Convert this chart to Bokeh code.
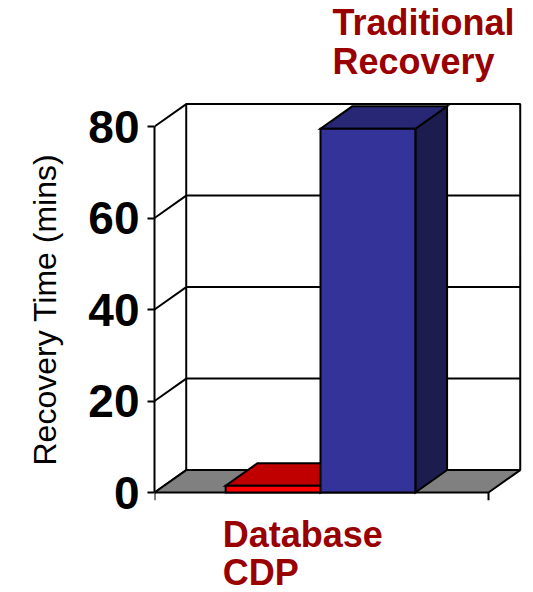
from bokeh.plotting import figure
from bokeh.models import Range1d, LinearAxis, FixedTicker, ColumnDataSource, Title
from bokeh.core.properties import value
from bokeh.embed import file_html
from bokeh.resources import INLINE

# ---- data ----
categories = ["Database CDP", "Traditional Recovery"]
recovery_mins = [1.5, 79.5]
y_ticks = [0, 20, 40, 60, 80]
axis_title = "Recovery Time (mins)"

# ---- styles ----
front_colors = ["#FF0000", "#333399"]
top_colors = ["#C00000", "#272775"]
side_colors = ["#8B0000", "#1C1C4E"]
label_color = "#990000"
FONT = "Liberation Sans"

# 3D depth offset (x in category units, y in minutes)
DX, DY = 0.095, 4.9
BAR_W = 0.284
CENTER = 0.497
YMAX = 80

W, H = 533, 592
LEFT = 154
p = figure(width=W, height=H, output_backend="svg", toolbar_location=None,
           x_range=Range1d(0, (W - LEFT) / 334), y_range=Range1d(-100 / 4.575, 492 / 4.575),
           x_axis_type=None, y_axis_type=None,
           min_border_left=LEFT, min_border_right=0, min_border_top=0, min_border_bottom=0)
p.outline_line_color = None
p.xgrid.visible = False
p.ygrid.visible = False
p.background_fill_color = "white"
p.border_fill_color = "white"

LW = 2
# back wall
p.patch([DX, 1 + DX, 1 + DX, DX], [DY, DY, YMAX + DY, YMAX + DY],
        fill_color="white", line_color="black", line_width=LW)
# back wall gridlines
gl = y_ticks[1:-1]
p.segment(x0=[DX] * len(gl), y0=[v + DY for v in gl], x1=[1 + DX] * len(gl),
          y1=[v + DY for v in gl], line_color="black", line_width=LW)
# side wall diagonals
p.segment(x0=[0] * len(y_ticks), y0=y_ticks, x1=[DX] * len(y_ticks),
          y1=[v + DY for v in y_ticks], line_color="black", line_width=LW)
# floor
p.patch([0, 1, 1 + DX, DX], [0, 0, DY, DY], fill_color="#808080",
        line_color="black", line_width=LW)
# category ticks below the floor
p.segment(x0=[0, 1], y0=[0, 0], x1=[0, 1], y1=[-1.7, -1.7], line_color="black", line_width=LW)

# bars
n = len(categories)
for i, (cat, v) in enumerate(zip(categories, recovery_mins)):
    x0 = CENTER - BAR_W * n / 2 + i * BAR_W
    x1 = x0 + BAR_W
    # side
    p.patch([x1, x1 + DX, x1 + DX, x1], [0, DY, v + DY, v], fill_color=side_colors[i],
            line_color="black", line_width=LW, line_join="miter")
    # top
    p.patch([x0, x1, x1 + DX, x0 + DX], [v, v, v + DY, v + DY], fill_color=top_colors[i],
            line_color="black", line_width=LW, line_join="miter")
    # front
    p.patch([x0, x1, x1, x0], [0, 0, v, v], fill_color=front_colors[i],
            line_color="black", line_width=LW, line_join="miter")

# category labels
lab = ColumnDataSource(dict(
    x=[0.204, 0.204, 0.533, 0.533],
    y=[-9.16, -17.4, 102.74, 94.24],
    t=["Database", "CDP", "Traditional", "Recovery"],
))
p.text(x="x", y="y", text="t", source=lab, text_font=value(FONT), text_font_style="bold",
       text_font_size="36px", text_color=label_color, text_baseline="alphabetic",
       text_align="left")

# y axis
yaxis = LinearAxis(ticker=FixedTicker(ticks=y_ticks), bounds=(0, YMAX))
yaxis.major_label_text_font = FONT
yaxis.major_label_text_font_size = "46px"
yaxis.major_label_text_font_style = "bold"
yaxis.major_label_text_color = "black"
yaxis.major_label_standoff = 8
yaxis.major_tick_out = 7
yaxis.major_tick_in = 0
yaxis.minor_tick_out = 0
yaxis.minor_tick_in = 0
yaxis.axis_line_width = LW
yaxis.major_tick_line_width = LW
p.add_layout(yaxis, "left")

# axis title as a left-side title, positioned along the 0..80 span
p.add_layout(Title(text=axis_title, align="left", offset=127, text_font=FONT,
                   text_font_size="32px", text_font_style="normal", text_color="black",
                   vertical_align="top", standoff=42), "left")

open("out.html", "w").write(file_html(p, INLINE))
